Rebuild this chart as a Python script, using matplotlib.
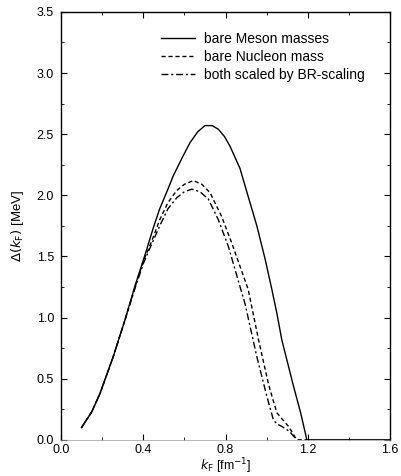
import numpy as np
import matplotlib
matplotlib.use("Agg")
import matplotlib.pyplot as plt
from matplotlib.ticker import MultipleLocator

plt.rcParams['font.family'] = ['Liberation Sans', 'DejaVu Sans']

# bare Meson masses (solid)
k_meson = [0.10, 0.15, 0.19, 0.254, 0.311, 0.36, 0.41, 0.45, 0.48, 0.515, 0.546, 0.59,
           0.627, 0.665, 0.70, 0.735, 0.765, 0.795, 0.822, 0.87, 0.91, 0.952, 0.992,
           1.025, 1.05, 1.073, 1.10, 1.13, 1.165, 1.195, 1.60]
d_meson = [0.10, 0.23, 0.38, 0.68, 0.98, 1.26, 1.52, 1.74, 1.89, 2.03, 2.16, 2.31,
           2.43, 2.52, 2.57, 2.57, 2.54, 2.48, 2.40, 2.22, 1.99, 1.75, 1.48,
           1.23, 1.03, 0.82, 0.64, 0.44, 0.22, 0.0, 0.0]

# bare Nucleon mass (dashed)
k_nuc = [0.10, 0.15, 0.19, 0.254, 0.311, 0.36, 0.40, 0.44, 0.48, 0.52, 0.563, 0.60,
         0.643, 0.685, 0.725, 0.78, 0.83, 0.87, 0.91, 0.96, 1.008, 1.03, 1.05, 1.08,
         1.106, 1.146, 1.20]
d_nuc = [0.10, 0.23, 0.38, 0.68, 0.98, 1.25, 1.46, 1.62, 1.80, 1.94, 2.04, 2.09,
         2.12, 2.09, 2.02, 1.83, 1.61, 1.42, 1.23, 0.82, 0.46, 0.33, 0.22, 0.16,
         0.11, 0.0, 0.0]

# both scaled by BR-scaling (dash-dot)
k_br = [0.10, 0.15, 0.19, 0.254, 0.311, 0.36, 0.40, 0.433, 0.48, 0.52, 0.563, 0.60,
        0.636, 0.675, 0.716, 0.765, 0.814, 0.862, 0.895, 0.952, 1.00, 1.033, 1.05,
        1.073, 1.11, 1.146]
d_br = [0.10, 0.23, 0.38, 0.68, 0.98, 1.24, 1.44, 1.57, 1.75, 1.89, 1.98, 2.03,
        2.05, 2.03, 1.97, 1.80, 1.58, 1.30, 1.11, 0.68, 0.36, 0.16, 0.13,
        0.11, 0.07, 0.0]

fig = plt.figure(figsize=(4.01, 4.76), dpi=100)
ax = fig.add_axes([0.152, 0.076, 0.821, 0.899])

ax.plot(k_meson, d_meson, color='black', lw=1.0, ls='-', label='bare Meson masses')
ax.plot(k_nuc, d_nuc, color='black', lw=1.0, ls=(0, (3, 2)), label='bare Nucleon mass')
ax.plot(k_br, d_br, color='black', lw=1.0, ls=(0, (5, 2, 1.5, 2)),
        label='both scaled by BR-scaling')

ax.set_xlim(0.0, 1.6)
ax.set_ylim(0.0, 3.5)
ax.xaxis.set_major_locator(MultipleLocator(0.4))
ax.xaxis.set_minor_locator(MultipleLocator(0.2))
ax.yaxis.set_major_locator(MultipleLocator(0.5))
ax.yaxis.set_minor_locator(MultipleLocator(0.25))
ax.tick_params(which='both', direction='in', top=True, right=True, labelsize=9)
ax.tick_params(which='major', length=4, width=0.8)
ax.tick_params(which='minor', length=2, width=0.6)
ax.tick_params(axis='y', pad=5)
ax.tick_params(axis='x', pad=3)
ax.xaxis.set_major_formatter(plt.FuncFormatter(lambda v, p: f"{v:.1f}"))
ax.yaxis.set_major_formatter(plt.FuncFormatter(lambda v, p: f"{v:.1f}"))
for s in ['left', 'right', 'top']:
    ax.spines[s].set_linewidth(1.0)
ax.spines['bottom'].set_linewidth(0.5)
ax.spines['bottom'].set_color('#999999')

ax.set_xlabel(r'$k_{\rm F}$ [fm$^{-1}$]', fontsize=9, labelpad=0)
ax.set_ylabel(r'$\Delta(k_{\rm F})$ [MeV]', fontsize=9.5, labelpad=8)

ax.legend(loc='upper right', bbox_to_anchor=(1.0, 1.012), frameon=False,
          fontsize=10, handlelength=2.4, borderaxespad=1.4, labelspacing=0.3,
          handletextpad=0.7)

fig.savefig('out.png', dpi=100)
